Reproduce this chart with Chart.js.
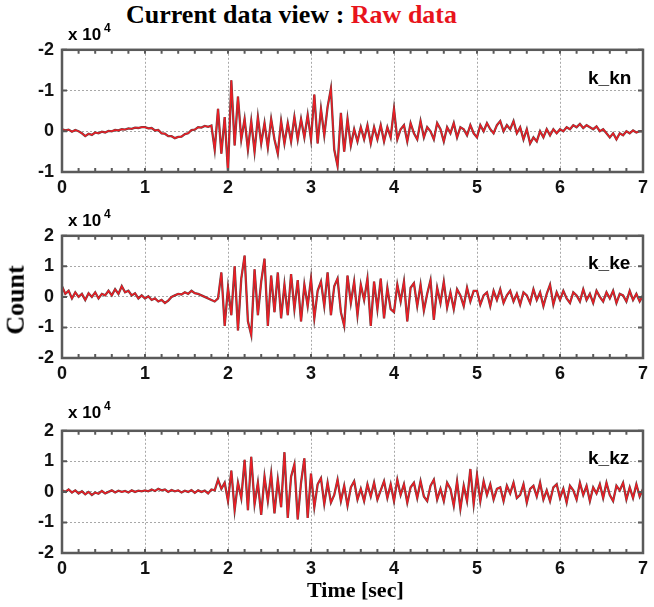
<!DOCTYPE html>
<html>
<head>
<meta charset="utf-8">
<script src="https://cdn.jsdelivr.net/npm/chart.js@4.4.1/dist/chart.umd.min.js"></script>
<style>
  body { margin: 0; background: #fff; }
  #wrap { position: relative; width: 654px; height: 607px; overflow: hidden; background: #fff; }
  canvas { position: absolute; left: 0; }
  .txt { position: absolute; white-space: nowrap; line-height: 1; }
  .serif { font-family: "Liberation Serif", "DejaVu Serif", serif; font-weight: bold; }
  .sans { font-family: "Liberation Sans", Arial, sans-serif; font-weight: bold; }
  .exp sup { font-size: 12px; vertical-align: 8px; margin-left: 3px; }
</style>
</head>
<body>
<div id="wrap">
  <canvas id="kn" width="654" height="174" style="top:31px"></canvas>
  <canvas id="ke" width="654" height="174" style="top:217px"></canvas>
  <canvas id="kz" width="654" height="174" style="top:412px"></canvas>

  <div class="txt serif" style="left:126px; top:2px; font-size:26px;">Current data view : <span style="color:#e8141c">Raw data</span></div>
  <div class="txt sans exp" style="left:68px; top:22px; font-size:17px;">x 10<sup>4</sup></div>
  <div class="txt sans exp" style="left:68px; top:208px; font-size:17px;">x 10<sup>4</sup></div>
  <div class="txt sans exp" style="left:68px; top:400px; font-size:17px;">x 10<sup>4</sup></div>
  <div class="txt sans" style="left:588px; top:68px; font-size:19px;">k_kn</div>
  <div class="txt sans" style="left:588px; top:253px; font-size:19px;">k_ke</div>
  <div class="txt sans" style="left:588px; top:448px; font-size:19px;">k_kz</div>
  <div class="txt serif" style="left:-19px; top:287px; font-size:26px; transform:rotate(-90deg);">Count</div>
  <div class="txt serif" style="left:307px; top:579px; font-size:22px;">Time [sec]</div>
</div>

<script>
// sample spacing of the traces, seconds
const dt = 0.04;

// x 10^4 counts, one value every 0.04 s from 0 to 7 s
const knValues = [
  0.05, 0.02, 0.04, -0.01, 0.03, 0.00, -0.05, -0.12, -0.06, -0.09, -0.03, -0.05, -0.01, -0.03, 0.01, 0.00, 0.03, 0.02, 0.05, 0.04, 0.07, 0.06, 0.09, 0.08, 0.10,
  0.10, 0.07, 0.08, 0.02, 0.03, -0.05, -0.06, -0.12, -0.12, -0.17, -0.14, -0.13, -0.07, -0.05, 0.03, 0.04, 0.10, 0.09, 0.13, 0.11, 0.14, -0.45, 0.55, -0.55, 0.35,
  -1.00, 1.25, -0.35, 0.85, -0.20, 0.30, -0.45, 0.25, -0.50, 0.35, -0.30, 0.20, -0.40, 0.30, -0.20, -0.55, 0.25, -0.30, 0.20, -0.25, 0.35, -0.20, 0.30, -0.15, 0.40,
  -0.20, 0.90, -0.30, 0.55, -0.10, 0.60, 1.05, -0.45, -0.85, 0.45, -0.50, 0.30, -0.35, 0.05, -0.25, 0.10, -0.20, 0.15, -0.30, 0.10, -0.20, 0.15, -0.25, 0.10, -0.15,
  0.55, -0.20, 0.05, 0.15, -0.25, 0.20, -0.05, -0.20, 0.25, -0.15, 0.10, 0.00, -0.20, 0.20, 0.05, -0.25, 0.10, -0.05, 0.20, -0.15, 0.10, 0.05, -0.10, 0.15, -0.05,
  -0.15, 0.15, 0.00, 0.20, 0.05, -0.05, 0.15, 0.25, 0.00, 0.15, 0.05, 0.25, -0.05, 0.10, -0.20, 0.05, -0.30, -0.15, -0.25, 0.00, -0.15, 0.05, -0.10, 0.05, -0.05,
  0.05, 0.00, 0.10, 0.05, 0.15, 0.10, 0.18, 0.08, 0.15, 0.10, 0.05, 0.12, 0.00, 0.05, -0.05, -0.15, -0.05, -0.20, -0.05, -0.10, 0.00, -0.05, 0.02, -0.03, 0.00,
  0.00
];

const keValues = [
  0.35, 0.10, 0.20, -0.05, 0.15, 0.00, 0.10, -0.10, 0.12, 0.00, 0.15, -0.05, 0.10, 0.05, 0.20, 0.05, 0.25, 0.10, 0.35, 0.15, 0.20, 0.05, 0.12, -0.05, 0.05,
  -0.05, 0.02, -0.10, -0.05, -0.15, -0.10, -0.20, -0.12, 0.00, 0.05, 0.10, 0.08, 0.15, 0.10, 0.20, 0.12, 0.10, 0.05, 0.00, -0.05, -0.10, -0.15, -0.05, 0.80, -0.95,
  0.30, -0.60, 1.00, -1.10, 0.60, 1.35, -0.80, -1.25, 0.90, -0.60, 0.50, 1.25, -0.95, 0.70, -0.50, 0.80, -0.70, 0.40, -0.60, 0.75, -0.40, 0.55, -0.80, 0.40, -0.30,
  0.60, -0.70, 0.20, 0.50, -0.30, 0.80, -0.60, 0.35, 0.60, -0.50, -0.95, 0.70, -0.20, 0.50, -0.60, 0.40, -0.10, 0.60, -0.95, 0.50, -0.40, 0.60, -0.70, 0.30, -0.40,
  -0.50, 0.40, -0.15, 0.50, -0.80, 0.30, 0.45, -0.30, 0.40, -0.45, 0.10, 0.55, -0.75, 0.30, -0.20, 0.50, -0.35, 0.15, -0.40, 0.25, 0.05, -0.30, 0.30, -0.15, 0.20,
  0.20, -0.25, 0.05, 0.15, -0.30, 0.20, -0.10, 0.25, -0.20, 0.05, 0.20, -0.15, 0.10, -0.25, 0.15, 0.05, -0.20, 0.25, -0.10, 0.15, -0.30, 0.10, 0.40, -0.25, 0.15,
  -0.10, 0.20, -0.05, -0.20, 0.15, 0.05, -0.15, 0.25, -0.10, 0.10, -0.20, 0.20, 0.00, -0.15, 0.15, -0.05, 0.20, -0.20, 0.10, 0.05, -0.15, 0.20, -0.10, 0.10, -0.15,
  0.05
];

const kzValues = [
  0.05, 0.00, 0.08, -0.02, 0.05, -0.05, 0.02, -0.08, 0.00, -0.10, -0.02, -0.06, 0.03, -0.05, 0.00, 0.05, -0.02, 0.04, 0.00, 0.03, -0.02, 0.05, 0.00, 0.04, 0.02,
  0.05, 0.02, 0.08, 0.03, 0.10, 0.05, 0.08, 0.00, 0.06, 0.02, 0.05, -0.02, 0.04, 0.00, 0.06, -0.03, 0.05, 0.00, 0.04, -0.05, 0.08, 0.05, 0.40, 0.10, 0.30,
  -0.30, 0.70, -0.60, 0.30, -0.20, 1.05, -0.60, 1.15, -0.40, 0.30, -0.75, 0.50, -0.30, 0.60, -0.70, 0.40, -0.50, 1.30, -0.85, 0.50, 0.90, -0.90, 0.30, 1.10, -0.85,
  0.60, -0.50, 0.25, 0.45, -0.40, 0.30, -0.35, -0.10, 0.40, -0.30, 0.20, -0.45, 0.15, 0.35, -0.25, 0.10, -0.30, 0.25, -0.15, 0.30, -0.25, 0.05, 0.35, -0.20, 0.25,
  -0.30, 0.40, -0.10, 0.25, -0.35, 0.15, 0.30, -0.20, 0.35, -0.15, -0.30, 0.20, 0.40, -0.25, 0.10, -0.30, 0.30, 0.10, -0.45, 0.35, -0.55, 0.20, -0.30, 0.75, -0.40,
  0.55, -0.30, 0.35, -0.10, 0.25, -0.25, 0.10, 0.15, -0.30, 0.20, -0.05, 0.30, -0.20, -0.10, 0.25, -0.35, 0.10, 0.20, -0.15, 0.30, -0.25, 0.05, -0.30, 0.15, 0.25,
  -0.20, 0.10, -0.35, 0.20, 0.05, -0.25, 0.30, -0.10, 0.20, -0.30, 0.15, -0.05, 0.25, -0.20, 0.30, -0.10, -0.30, 0.20, 0.05, 0.30, -0.25, 0.15, -0.20, 0.25, -0.15,
  0.10
];

// tick labels as printed on each panel's y axis (bottom to top)
const knTickLabels = ['-1', '0', '-1', '-2'];
const keTickLabels = ['-2', '-1', '0', '1', '2'];
const kzTickLabels = ['-2', '-1', '0', '1', '2'];
const timeTickLabels = ['0', '1', '2', '3', '4', '5', '6', '7'];

const tickFont = { family: "'Liberation Sans', Arial, sans-serif", weight: 'bold', size: 18 };

// box round the plot + small inward ticks, like the matlab axes
const framePlugin = {
  id: 'frame',
  afterDatasetsDraw(chart) {
    const ctx = chart.ctx;
    const a = chart.chartArea;
    const xs = chart.scales.x;
    const ys = chart.scales.y;
    ctx.save();
    ctx.strokeStyle = '#5a5a5a';
    ctx.lineWidth = 2;
    ctx.beginPath();
    for (let t = 0; t <= 7.001; t += 0.2) {
      const px = xs.getPixelForValue(t);
      ctx.moveTo(px, a.top);
      ctx.lineTo(px, a.top + 4);
      ctx.moveTo(px, a.bottom);
      ctx.lineTo(px, a.bottom - 4);
    }
    for (let v = ys.min; v <= ys.max; v++) {
      const py = ys.getPixelForValue(v);
      ctx.moveTo(a.left, py);
      ctx.lineTo(a.left + 5, py);
      ctx.moveTo(a.right, py);
      ctx.lineTo(a.right - 5, py);
    }
    ctx.stroke();
    ctx.lineWidth = 2.5;
    ctx.strokeRect(a.left, a.top, a.right - a.left, a.bottom - a.top);
    ctx.restore();
  }
};

function makePanel(id, values, yMin, yMax, yLabels) {
  const points = values.map((v, i) => ({ x: +(i * dt).toFixed(2), y: v }));
  return new Chart(document.getElementById(id), {
    type: 'line',
    data: {
      datasets: [
        { data: points, borderColor: '#ee1c24', borderWidth: 1.4, pointRadius: 0, tension: 0, order: 0 },
        { data: points, borderColor: 'rgba(55,25,25,0.8)', borderWidth: 2.3, pointRadius: 0, tension: 0, order: 1 }
      ]
    },
    options: {
      responsive: false,
      animation: false,
      events: [],
      layout: { padding: { top: 12, right: 11, left: 0, bottom: 0 } },
      plugins: { legend: { display: false }, tooltip: { enabled: false } },
      scales: {
        x: {
          type: 'linear', min: 0, max: 7,
          ticks: {
            stepSize: 1, color: '#111', font: tickFont, padding: 5, maxRotation: 0,
            callback: (v) => timeTickLabels[v]
          },
          grid: { color: '#a8a8a8', lineWidth: 1, drawTicks: false },
          border: { display: false, dash: [2, 2] },
          afterFit: (s) => { s.height = 33; }
        },
        y: {
          min: yMin, max: yMax,
          ticks: {
            stepSize: 1, color: '#111', font: tickFont, padding: 8,
            callback: (v) => yLabels[v - yMin]
          },
          grid: { color: '#a8a8a8', lineWidth: 1, drawTicks: false },
          border: { display: false, dash: [2, 2] },
          afterFit: (s) => { s.width = 62; }
        }
      }
    },
    plugins: [framePlugin]
  });
}

makePanel('kn', knValues, -1, 2, knTickLabels);
makePanel('ke', keValues, -2, 2, keTickLabels);
makePanel('kz', kzValues, -2, 2, kzTickLabels);
</script>
</body>
</html>
